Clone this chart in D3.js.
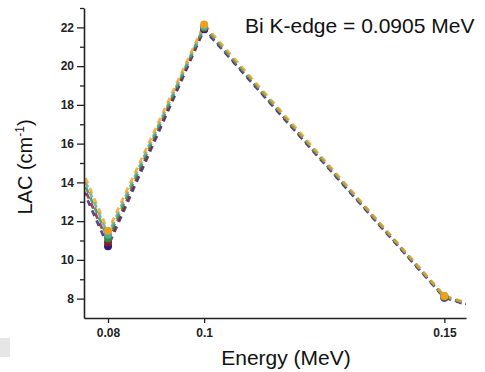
<!DOCTYPE html>
<html>
<head>
<meta charset="utf-8">
<script src="https://cdn.jsdelivr.net/npm/d3@7"></script>
<style>
  body { margin: 0; background: #fff; }
  text { font-family: Arial, "Liberation Sans", sans-serif; }
</style>
</head>
<body>
<div id="chart"></div>
<script>
// energies (MeV) and LAC values for each glass sample
const energies = [0.06, 0.08, 0.1, 0.15, 0.2];
const seriesNames = ['S1', 'S2', 'S3', 'S4', 'S5'];
const lacS1 = [21.9, 10.7, 21.9, 8.05, 4.2];
const lacS2 = [22.3, 10.9, 21.95, 8.08, 4.2];
const lacS3 = [22.6, 11.1, 22.0, 8.1, 4.22];
const lacS4 = [22.9, 11.3, 22.05, 8.12, 4.24];
const lacS5 = [23.1, 11.5, 22.15, 8.14, 4.25];
const colors = ['#2a1a80', '#8b1c2a', '#2f8a3f', '#4fa89c', '#eda020'];
const xTicks = [0.08, 0.1, 0.15];
const yTicks = [8, 10, 12, 14, 16, 18, 20, 22];
const yMinorTicks = [9, 11, 13, 15, 17, 19, 21, 23];
const annotation = 'Bi K-edge = 0.0905 MeV';

const allSeries = [lacS1, lacS2, lacS3, lacS4, lacS5].map((vals, i) => ({
  name: seriesNames[i],
  color: colors[i],
  points: energies.map((e, j) => ({ x: e, y: vals[j] })),
}));

const W = 485, H = 372;
const margin = { top: 8, right: 19, bottom: 54, left: 84 };
const width = W - margin.left - margin.right;
const height = H - margin.top - margin.bottom;

const root = d3.select('#chart').append('svg')
  .attr('width', W)
  .attr('height', H);

// little grey patch in the bottom-left corner of the original
root.append('rect')
  .attr('x', 0).attr('y', 338).attr('width', 10).attr('height', 19)
  .attr('fill', '#e6e6e6');

const svg = root.append('g')
  .attr('transform', `translate(${margin.left},${margin.top})`);

const x = d3.scaleLinear().domain([0.075, 0.1545]).range([0, width]);
const y = d3.scaleLinear().domain([7, 23]).range([height, 0]);

svg.append('clipPath').attr('id', 'plot-clip')
  .append('rect').attr('x', 0).attr('y', 0).attr('width', width).attr('height', height);

const plot = svg.append('g').attr('clip-path', 'url(#plot-clip)');

const line = d3.line().x((d) => x(d.x)).y((d) => y(d.y));

// Lines
plot.selectAll('.series')
  .data(allSeries)
  .enter()
  .append('path')
  .attr('class', 'series')
  .attr('fill', 'none')
  .attr('stroke', (d) => d.color)
  .attr('stroke-width', 2.8)
  .attr('stroke-dasharray', '6,5')
  .attr('opacity', 0.8)
  .attr('d', (d) => line(d.points));

// Dots
allSeries.forEach((s) => {
  plot.selectAll(null)
    .data(s.points)
    .enter()
    .append('circle')
    .attr('cx', (d) => x(d.x))
    .attr('cy', (d) => y(d.y))
    .attr('r', 4)
    .attr('fill', s.color);
});

// Y axis
svg.append('g')
  .call(d3.axisLeft(y).tickValues(yTicks).tickSize(7).tickSizeOuter(0).tickPadding(3));
svg.append('g')
  .call(d3.axisLeft(y).tickValues(yMinorTicks).tickSize(4).tickSizeOuter(0).tickFormat(''))
  .select('.domain').remove();

// X axis
svg.append('g')
  .attr('transform', `translate(0,${height})`)
  .call(d3.axisBottom(x).tickValues(xTicks).tickSize(5).tickSizeOuter(0).tickPadding(5)
    .tickFormat((d) => String(d)));

svg.selectAll('.domain').attr('stroke', '#222').attr('stroke-width', 1.6);
svg.selectAll('.tick line').attr('stroke', '#222').attr('stroke-width', 1.3);
svg.selectAll('.tick text')
  .attr('font-family', 'Arial, "Liberation Sans", sans-serif')
  .attr('font-size', 12)
  .attr('font-weight', 'bold')
  .attr('fill', '#222');

// Axis titles
root.append('text')
  .attr('x', 286).attr('y', 365)
  .attr('text-anchor', 'middle')
  .attr('font-size', 21)
  .attr('fill', '#111')
  .text('Energy (MeV)');

const yTitle = root.append('text')
  .attr('transform', 'translate(32,167) rotate(-90)')
  .attr('text-anchor', 'middle')
  .attr('font-size', 20)
  .attr('fill', '#111');
yTitle.append('tspan').text('LAC (cm');
yTitle.append('tspan').attr('font-size', 12).attr('dy', -8).text('-1');
yTitle.append('tspan').attr('dy', 8).text(')');

// Annotation
root.append('text')
  .attr('x', 245).attr('y', 33)
  .attr('font-size', 21)
  .attr('fill', '#111')
  .text(annotation);
</script>
</body>
</html>
